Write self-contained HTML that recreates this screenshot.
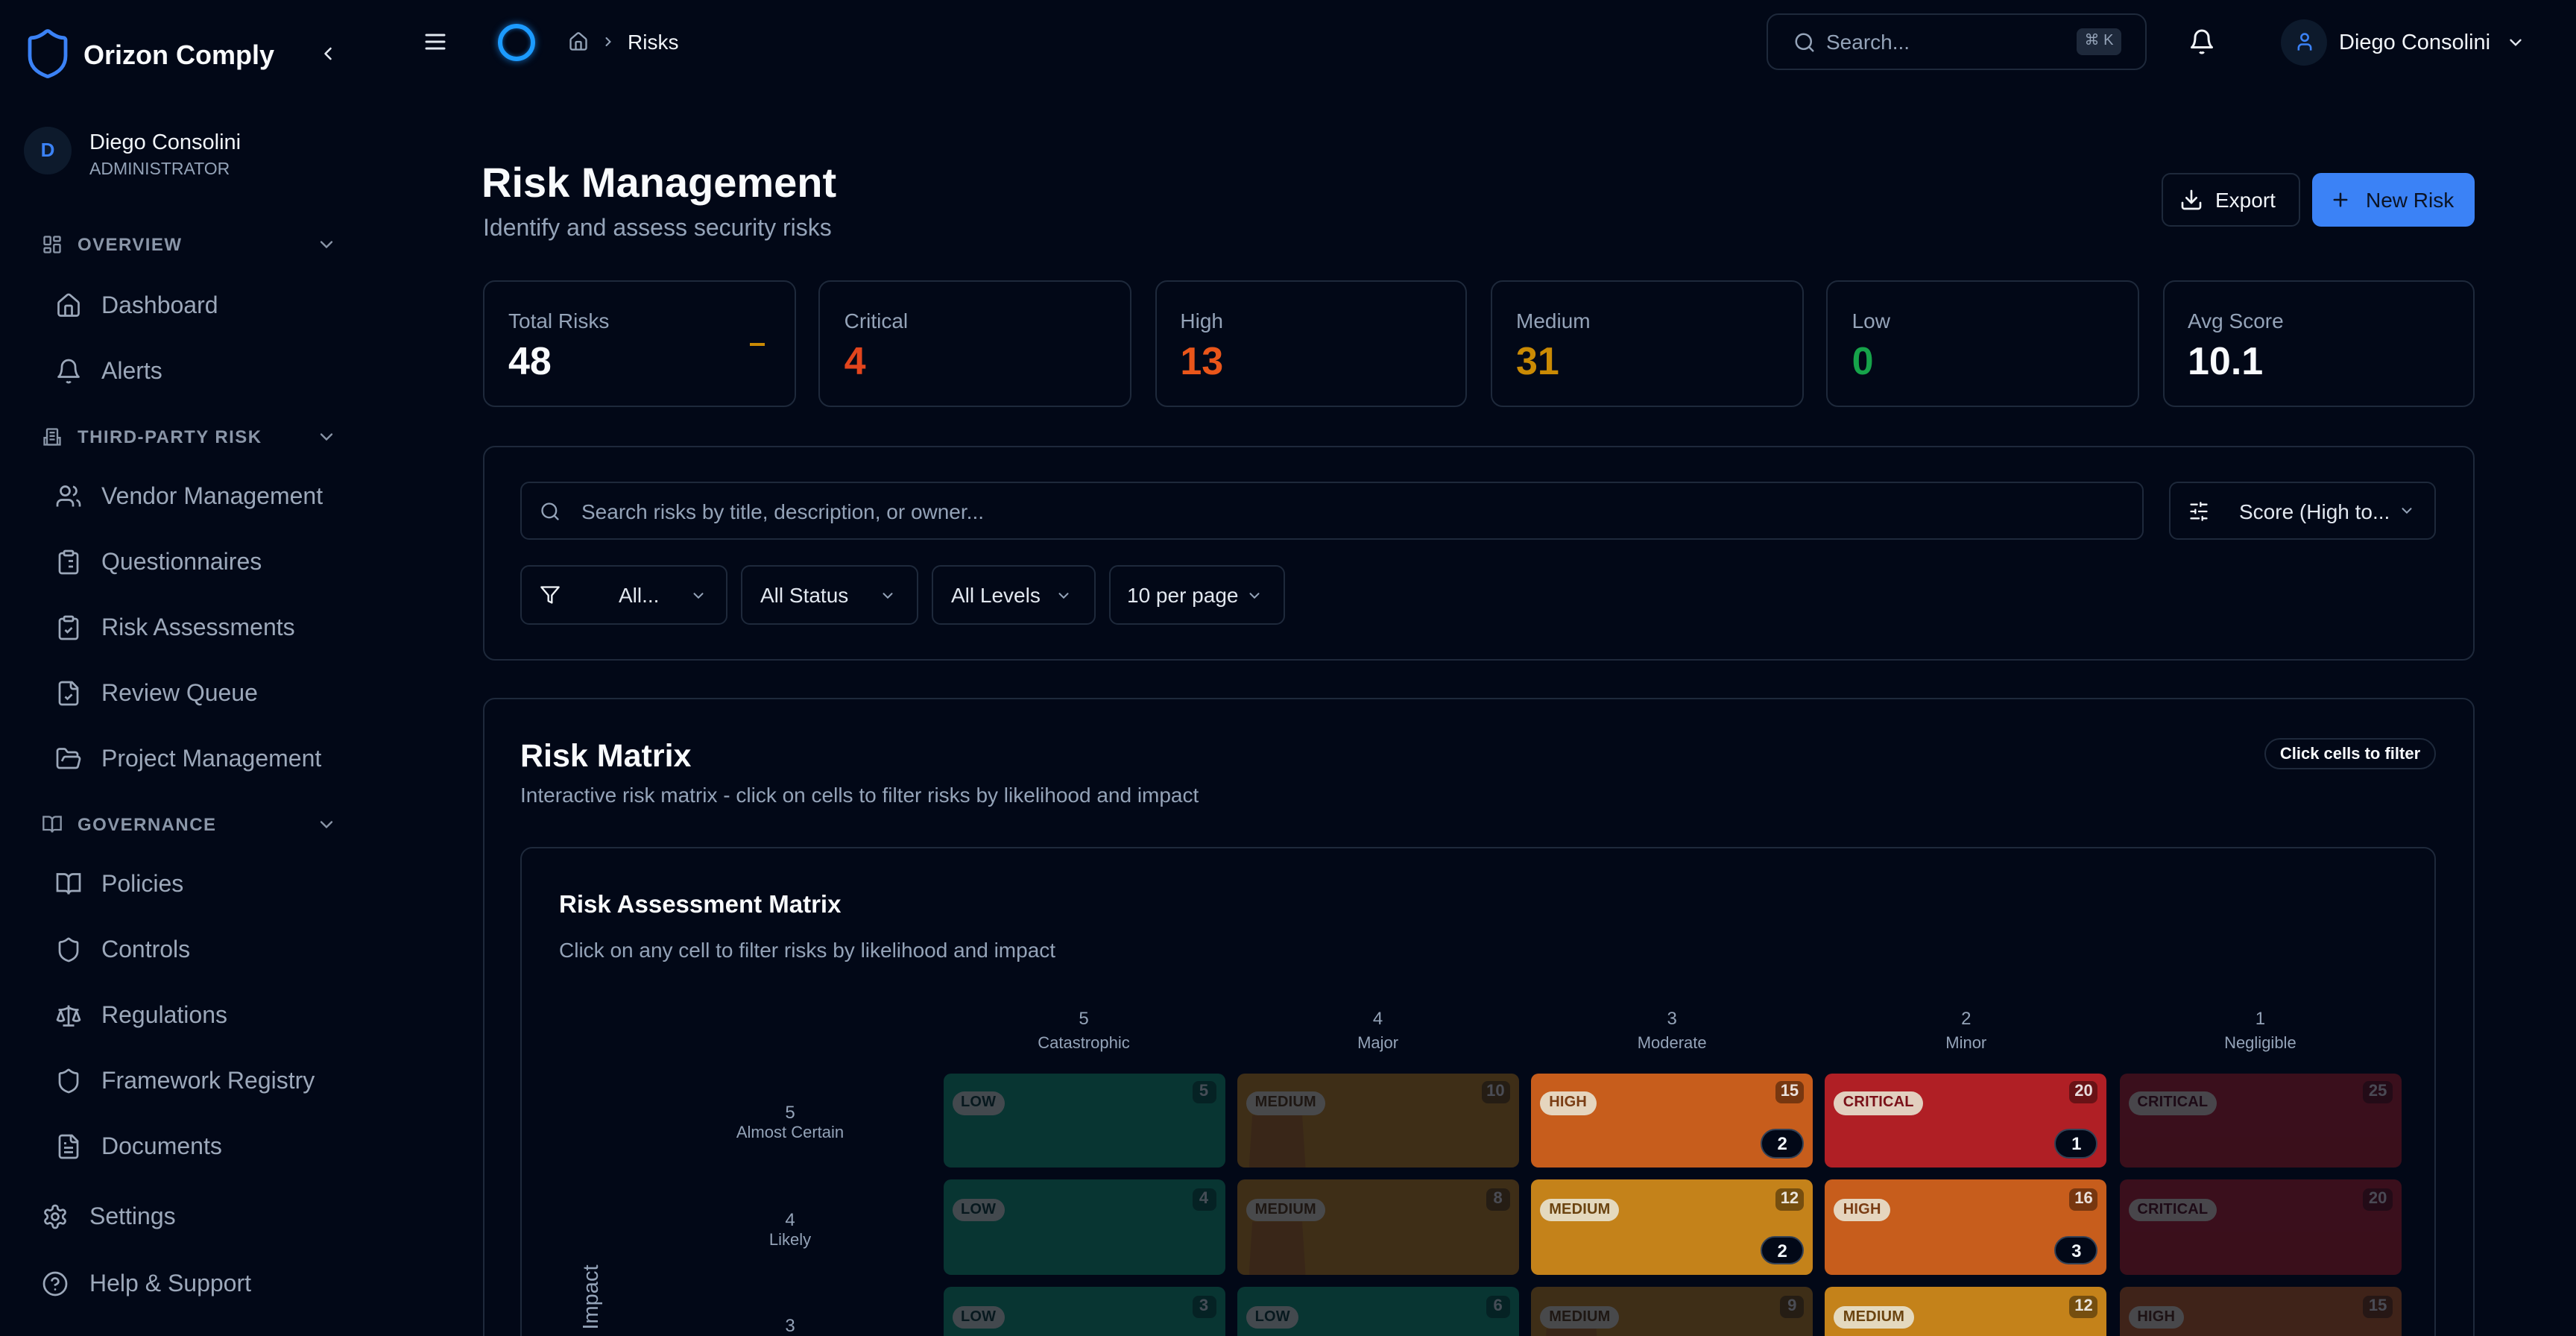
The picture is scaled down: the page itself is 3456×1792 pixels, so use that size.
<!DOCTYPE html>
<html><head><meta charset="utf-8">
<style>
html,body{margin:0;padding:0;width:3456px;height:1792px;overflow:hidden;background:#020817;}
#w{position:absolute;left:0;top:0;width:1728px;height:896px;transform:scale(2);transform-origin:0 0;font-family:"Liberation Sans",sans-serif;color:#f1f5f9;overflow:hidden;background:#020817}
.t{position:absolute;white-space:nowrap;height:20px;line-height:20px}
svg{position:absolute;overflow:visible}
.card{position:absolute;border:1px solid #1e293b;border-radius:8px;box-sizing:border-box}
.nav{font-size:16px;color:#9ca8ba;left:68px}
.sec{font-size:12px;font-weight:bold;color:#8a96a8;letter-spacing:0.06em;left:52px}
.lbl{font-size:14px;color:#94a3b8}
.val{font-size:26px;font-weight:bold;height:30px;line-height:30px}
.btn{position:absolute;border:1px solid #1e293b;border-radius:6px;box-sizing:border-box}
.ft{font-size:14px;color:#e2e8f0}
.ch{font-size:12px;color:#94a3b8;text-align:center;width:100px;margin-left:-50px}
.cl{font-size:11px;color:#94a3b8;text-align:center;width:120px;margin-left:-60px}
.cell{position:absolute;width:189px;height:63.5px;border-radius:5px;overflow:hidden}
.dim{opacity:.31}
.lv{position:absolute;left:6px;top:12.5px;height:15.5px;line-height:15.5px;padding:0 6px;border-radius:999px;background:rgba(232,226,208,0.9);font-size:10px;font-weight:bold;letter-spacing:0.01em}
.sc{position:absolute;right:6px;top:5.5px;min-width:9px;height:15px;line-height:15px;padding:0 3.5px;border-radius:4px;background:rgba(0,0,0,0.4);color:rgba(255,255,255,0.85);font-size:11px;font-weight:bold;text-align:center}
.cn{position:absolute;right:6px;bottom:6.5px;width:29px;height:19.5px;line-height:19.5px;border-radius:10px;background:#020817;border:1px solid #334155;box-sizing:border-box;color:#f1f5f9;font-size:12px;font-weight:bold;text-align:center}
.tz{position:absolute;left:8px;top:28px;width:40px;height:36px;background:rgba(140,50,30,0.3);clip-path:polygon(6% 0,94% 0,100% 100%,0 100%)}
</style></head>
<body><div id="w">

<!-- ============ SIDEBAR ============ -->
<svg style="left:20px;top:20px" width="24" height="32" viewBox="4 1.5 16 21" preserveAspectRatio="none" fill="none" stroke="#3b82f6" stroke-width="1.6" stroke-linejoin="round"><path d="M20 13c0 5-3.5 7.5-7.66 8.95a1 1 0 0 1-.67-.01C7.5 20.5 4 18 4 13V6a1 1 0 0 1 1-1c2 0 4.5-1.2 6.24-2.72a1.17 1.17 0 0 1 1.52 0C14.51 3.81 17 5 19 5a1 1 0 0 1 1 1z"/></svg>
<div class="t" style="left:56px;top:26.5px;font-size:18px;font-weight:bold;color:#f8fafc">Orizon Comply</div>
<svg style="left:213px;top:29px" width="14" height="14" viewBox="0 0 24 24" fill="none" stroke="#e2e8f0" stroke-width="2.2" stroke-linecap="round" stroke-linejoin="round"><path d="m15 18-6-6 6-6"/></svg>

<div style="position:absolute;left:16px;top:85px;width:32px;height:32px;border-radius:50%;background:#0d1a2c"></div>
<div class="t" style="left:16px;top:91px;width:32px;text-align:center;font-size:13px;font-weight:bold;color:#3b82f6">D</div>
<div class="t" style="left:60px;top:85.5px;font-size:14.5px;color:#f1f5f9">Diego Consolini</div>
<div class="t" style="left:60px;top:103.5px;font-size:11.5px;color:#94a3b8">ADMINISTRATOR</div>

<!-- OVERVIEW -->
<svg style="left:28px;top:157px" width="14" height="14" viewBox="0 0 24 24" fill="none" stroke="#8a96a8" stroke-width="2"><rect width="7" height="9" x="3" y="3" rx="1"/><rect width="7" height="5" x="14" y="3" rx="1"/><rect width="7" height="9" x="14" y="12" rx="1"/><rect width="7" height="5" x="3" y="16" rx="1"/></svg>
<div class="t sec" style="top:154px">OVERVIEW</div>
<svg style="left:212px;top:157px" width="14" height="14" viewBox="0 0 24 24" fill="none" stroke="#8a96a8" stroke-width="2" stroke-linecap="round"><path d="m6 9 6 6 6-6"/></svg>

<svg style="left:37px;top:196px" width="18" height="18" viewBox="0 0 24 24" fill="none" stroke="#9ca8ba" stroke-width="1.8" stroke-linejoin="round"><path d="M15 21v-8a1 1 0 0 0-1-1h-4a1 1 0 0 0-1 1v8"/><path d="M3 10a2 2 0 0 1 .709-1.528l7-5.999a2 2 0 0 1 2.582 0l7 5.999A2 2 0 0 1 21 10v9a2 2 0 0 1-2 2H5a2 2 0 0 1-2-2z"/></svg>
<div class="t nav" style="top:196px">Dashboard</div>
<svg style="left:37px;top:240px" width="18" height="18" viewBox="0 0 24 24" fill="none" stroke="#9ca8ba" stroke-width="1.8" stroke-linejoin="round"><path d="M6 8a6 6 0 0 1 12 0c0 7 3 9 3 9H3s3-2 3-9"/><path d="M10.3 21a1.94 1.94 0 0 0 3.4 0"/></svg>
<div class="t nav" style="top:240px">Alerts</div>

<!-- THIRD-PARTY -->
<svg style="left:28px;top:286px" width="14" height="14" viewBox="0 0 24 24" fill="none" stroke="#8a96a8" stroke-width="2"><rect x="6" y="3" width="12" height="18" rx="1"/><path d="M2 21h20M3 21v-8h3M21 21v-8h-3M9 7h6M9 11h6M9 15h6"/></svg>
<div class="t sec" style="top:283px">THIRD-PARTY RISK</div>
<svg style="left:212px;top:286px" width="14" height="14" viewBox="0 0 24 24" fill="none" stroke="#8a96a8" stroke-width="2" stroke-linecap="round"><path d="m6 9 6 6 6-6"/></svg>

<svg style="left:37px;top:324px" width="18" height="18" viewBox="0 0 24 24" fill="none" stroke="#9ca8ba" stroke-width="1.8"><path d="M16 21v-2a4 4 0 0 0-4-4H6a4 4 0 0 0-4 4v2"/><circle cx="9" cy="7" r="4"/><path d="M22 21v-2a4 4 0 0 0-3-3.87"/><path d="M16 3.13a4 4 0 0 1 0 7.75"/></svg>
<div class="t nav" style="top:324px">Vendor Management</div>
<svg style="left:37px;top:368px" width="18" height="18" viewBox="0 0 24 24" fill="none" stroke="#9ca8ba" stroke-width="1.8"><rect width="8" height="4" x="8" y="2" rx="1"/><path d="M16 4h2a2 2 0 0 1 2 2v14a2 2 0 0 1-2 2H6a2 2 0 0 1-2-2V6a2 2 0 0 1 2-2h2"/><path d="M12 11h4M12 16h4M8 11h.01M8 16h.01"/></svg>
<div class="t nav" style="top:368px">Questionnaires</div>
<svg style="left:37px;top:412px" width="18" height="18" viewBox="0 0 24 24" fill="none" stroke="#9ca8ba" stroke-width="1.8"><rect width="8" height="4" x="8" y="2" rx="1"/><path d="M16 4h2a2 2 0 0 1 2 2v14a2 2 0 0 1-2 2H6a2 2 0 0 1-2-2V6a2 2 0 0 1 2-2h2"/><path d="m9 14 2 2 4-4"/></svg>
<div class="t nav" style="top:412px">Risk Assessments</div>
<svg style="left:37px;top:456px" width="18" height="18" viewBox="0 0 24 24" fill="none" stroke="#9ca8ba" stroke-width="1.8"><path d="M15 2H6a2 2 0 0 0-2 2v16a2 2 0 0 0 2 2h12a2 2 0 0 0 2-2V7Z"/><path d="M14 2v4a2 2 0 0 0 2 2h4"/><path d="m9 15 2 2 4-4"/></svg>
<div class="t nav" style="top:456px">Review Queue</div>
<svg style="left:37px;top:500px" width="18" height="18" viewBox="0 0 24 24" fill="none" stroke="#9ca8ba" stroke-width="1.8"><path d="m6 14 1.5-2.9A2 2 0 0 1 9.24 10H20a2 2 0 0 1 1.94 2.5l-1.54 6a2 2 0 0 1-1.950 1.5H4a2 2 0 0 1-2-2V5a2 2 0 0 1 2-2h3.9a2 2 0 0 1 1.69.9l.81 1.2a2 2 0 0 0 1.67.9H18a2 2 0 0 1 2 2v2"/></svg>
<div class="t nav" style="top:500px">Project Management</div>

<!-- GOVERNANCE -->
<svg style="left:28px;top:546px" width="14" height="14" viewBox="0 0 24 24" fill="none" stroke="#8a96a8" stroke-width="2"><path d="M2 3h6a4 4 0 0 1 4 4v14a3 3 0 0 0-3-3H2z"/><path d="M22 3h-6a4 4 0 0 0-4 4v14a3 3 0 0 1 3-3h7z"/></svg>
<div class="t sec" style="top:543px">GOVERNANCE</div>
<svg style="left:212px;top:546px" width="14" height="14" viewBox="0 0 24 24" fill="none" stroke="#8a96a8" stroke-width="2" stroke-linecap="round"><path d="m6 9 6 6 6-6"/></svg>

<svg style="left:37px;top:584px" width="18" height="18" viewBox="0 0 24 24" fill="none" stroke="#9ca8ba" stroke-width="1.8"><path d="M2 3h6a4 4 0 0 1 4 4v14a3 3 0 0 0-3-3H2z"/><path d="M22 3h-6a4 4 0 0 0-4 4v14a3 3 0 0 1 3-3h7z"/></svg>
<div class="t nav" style="top:584px">Policies</div>
<svg style="left:37px;top:628px" width="18" height="18" viewBox="0 0 24 24" fill="none" stroke="#9ca8ba" stroke-width="1.8"><path d="M20 13c0 5-3.5 7.5-7.66 8.95a1 1 0 0 1-.67-.01C7.5 20.5 4 18 4 13V6a1 1 0 0 1 1-1c2 0 4.5-1.2 6.24-2.72a1.17 1.170 0 0 1 1.52 0C14.51 3.81 17 5 19 5a1 1 0 0 1 1 1z"/></svg>
<div class="t nav" style="top:628px">Controls</div>
<svg style="left:37px;top:672px" width="18" height="18" viewBox="0 0 24 24" fill="none" stroke="#9ca8ba" stroke-width="1.8" stroke-linejoin="round"><path d="m16 16 3-8 3 8c-.87.65-1.920 1-3 1s-2.13-.35-3-1Z"/><path d="m2 16 3-8 3 8c-.87.65-1.92 1-3 1s-2.13-.35-3-1Z"/><path d="M7 21h10M12 3v18M3 7h2c2 0 5-1 7-2 2 1 5 2 7 2h2"/></svg>
<div class="t nav" style="top:672px">Regulations</div>
<svg style="left:37px;top:716px" width="18" height="18" viewBox="0 0 24 24" fill="none" stroke="#9ca8ba" stroke-width="1.8"><path d="M20 13c0 5-3.5 7.5-7.66 8.95a1 1 0 0 1-.67-.01C7.5 20.5 4 18 4 13V6a1 1 0 0 1 1-1c2 0 4.5-1.2 6.24-2.72a1.17 1.17 0 0 1 1.52 0C14.51 3.81 17 5 19 5a1 1 0 0 1 1 1z"/></svg>
<div class="t nav" style="top:716px">Framework Registry</div>
<svg style="left:37px;top:760px" width="18" height="18" viewBox="0 0 24 24" fill="none" stroke="#9ca8ba" stroke-width="1.8"><path d="M15 2H6a2 2 0 0 0-2 2v16a2 2 0 0 0 2 2h12a2 2 0 0 0 2-2V7Z"/><path d="M14 2v4a2 2 0 0 0 2 2h4"/><path d="M10 9H8M16 13H8M16 17H8"/></svg>
<div class="t nav" style="top:760px">Documents</div>

<svg style="left:28px;top:807px" width="18" height="18" viewBox="0 0 24 24" fill="none" stroke="#9ca8ba" stroke-width="1.8"><path d="M12.22 2h-.44a2 2 0 0 0-2 2v.18a2 2 0 0 1-1 1.73l-.43.25a2 2 0 0 1-2 0l-.15-.08a2 2 0 0 0-2.73.73l-.22.38a2 2 0 0 0 .73 2.73l.15.1a2 2 0 0 1 1 1.72v.51a2 2 0 0 1-1 1.74l-.15.09a2 2 0 0 0-.73 2.73l.22.38a2 2 0 0 0 2.73.73l.15-.08a2 2 0 0 1 2 0l.43.25a2 2 0 0 1 1 1.73V20a2 2 0 0 0 2 2h.44a2 2 0 0 0 2-2v-.18a2 2 0 0 1 1-1.73l.43-.25a2 2 0 0 1 2 0l.15.08a2 2 0 0 0 2.73-.73l.22-.39a2 2 0 0 0-.73-2.73l-.15-.08a2 2 0 0 1-1-1.74v-.5a2 2 0 0 1 1-1.74l.15-.09a2 2 0 0 0 .73-2.730l-.22-.38a2 2 0 0 0-2.73-.73l-.15.08a2 2 0 0 1-2 0l-.43-.25a2 2 0 0 1-1-1.73V4a2 2 0 0 0-2-2z"/><circle cx="12" cy="12" r="3"/></svg>
<div class="t nav" style="left:60px;top:807px">Settings</div>
<svg style="left:28px;top:852px" width="18" height="18" viewBox="0 0 24 24" fill="none" stroke="#9ca8ba" stroke-width="1.8" stroke-linecap="round"><circle cx="12" cy="12" r="10"/><path d="M9.09 9a3 3 0 0 1 5.83 1c0 2-3 3-3 3"/><path d="M12 17h.01"/></svg>
<div class="t nav" style="left:60px;top:852px">Help &amp; Support</div>

<!-- ============ TOP BAR ============ -->
<svg style="left:283px;top:19px" width="18" height="18" viewBox="0 0 24 24" fill="none" stroke="#e2e8f0" stroke-width="2" stroke-linecap="round"><path d="M4 12h16M4 6h16M4 18h16"/></svg>
<div style="position:absolute;left:333.5px;top:15.5px;width:25px;height:25px;border-radius:50%;border:3.5px solid #1c9bff;box-sizing:border-box;box-shadow:0 0 5px rgba(30,150,255,0.7), inset 0 0 3px rgba(30,150,255,0.6)"></div>
<svg style="left:381px;top:21px" width="14" height="14" viewBox="0 0 24 24" fill="none" stroke="#94a3b8" stroke-width="2" stroke-linejoin="round"><path d="M15 21v-8a1 1 0 0 0-1-1h-4a1 1 0 0 0-1 1v8"/><path d="M3 10a2 2 0 0 1 .709-1.528l7-5.999a2 2 0 0 1 2.582 0l7 5.999A2 2 0 0 1 21 10v9a2 2 0 0 1-2 2H5a2 2 0 0 1-2-2z"/></svg>
<svg style="left:403px;top:23px" width="10" height="10" viewBox="0 0 24 24" fill="none" stroke="#94a3b8" stroke-width="2.4" stroke-linecap="round"><path d="m9 18 6-6-6-6"/></svg>
<div class="t" style="left:421px;top:18px;font-size:14px;color:#f1f5f9">Risks</div>

<div class="btn" style="left:1185px;top:9px;width:255px;height:38px;border-radius:8px"></div>
<svg style="left:1203px;top:21px" width="15" height="15" viewBox="0 0 24 24" fill="none" stroke="#94a3b8" stroke-width="2" stroke-linecap="round"><circle cx="11" cy="11" r="8"/><path d="m21 21-4.3-4.3"/></svg>
<div class="t" style="left:1225px;top:18px;font-size:14px;color:#94a3b8">Search...</div>
<div style="position:absolute;left:1393px;top:19px;width:30px;height:18px;border-radius:4px;background:#1e293b"></div>
<div class="t" style="left:1393px;top:18px;width:30px;text-align:center;font-size:10px;color:#94a3b8">⌘ K</div>

<svg style="left:1468px;top:19px" width="18" height="18" viewBox="0 0 24 24" fill="none" stroke="#f1f5f9" stroke-width="2" stroke-linejoin="round"><path d="M6 8a6 6 0 0 1 12 0c0 7 3 9 3 9H3s3-2 3-9"/><path d="M10.3 21a1.94 1.94 0 0 0 3.4 0"/></svg>

<div style="position:absolute;left:1530px;top:12.5px;width:31px;height:31px;border-radius:50%;background:#0d1a2c"></div>
<svg style="left:1538.5px;top:21px" width="14" height="14" viewBox="0 0 24 24" fill="none" stroke="#3b82f6" stroke-width="2.2"><circle cx="12" cy="7" r="4"/><path d="M5 22v-3a4 4 0 0 1 4-4h6a4 4 0 0 1 4 4v3"/></svg>
<div class="t" style="left:1569px;top:18.5px;font-size:14.5px;color:#f1f5f9">Diego Consolini</div>
<svg style="left:1681px;top:21.5px" width="13" height="13" viewBox="0 0 24 24" fill="none" stroke="#e2e8f0" stroke-width="2.2" stroke-linecap="round"><path d="m6 9 6 6 6-6"/></svg>

<!-- ============ PAGE HEADER ============ -->
<div class="t" style="left:323px;top:107px;height:32px;line-height:32px;font-size:28px;font-weight:bold;color:#f8fafc">Risk Management</div>
<div class="t" style="left:324px;top:144px;font-size:16px;color:#94a3b8">Identify and assess security risks</div>

<div class="btn" style="left:1450px;top:116px;width:93px;height:36px"></div>
<svg style="left:1462px;top:126px" width="16" height="16" viewBox="0 0 24 24" fill="none" stroke="#f1f5f9" stroke-width="2" stroke-linecap="round" stroke-linejoin="round"><path d="M21 15v4a2 2 0 0 1-2 2H5a2 2 0 0 1-2-2v-4"/><polyline points="7 10 12 15 17 10"/><line x1="12" x2="12" y1="15" y2="3"/></svg>
<div class="t" style="left:1486px;top:124px;font-size:14px;color:#f1f5f9">Export</div>
<div style="position:absolute;left:1551px;top:116px;width:109px;height:36px;border-radius:6px;background:#3b82f6"></div>
<svg style="left:1563px;top:127px" width="14" height="14" viewBox="0 0 24 24" fill="none" stroke="#0b1324" stroke-width="2.2" stroke-linecap="round"><path d="M5 12h14M12 5v14"/></svg>
<div class="t" style="left:1587px;top:124px;font-size:14px;color:#0b1324">New Risk</div>

<!-- ============ STAT CARDS ============ -->
<div class="card" style="left:324px;top:188px;width:209.5px;height:85px"></div>
<div class="t lbl" style="left:341px;top:205px">Total Risks</div>
<div class="t val" style="left:341px;top:226.5px;color:#f8fafc">48</div>
<div style="position:absolute;left:502.5px;top:229.5px;width:10px;height:2px;background:#ca8a04"></div>

<div class="card" style="left:549.3px;top:188px;width:209.5px;height:85px"></div>
<div class="t lbl" style="left:566.3px;top:205px">Critical</div>
<div class="t val" style="left:566.3px;top:226.5px;color:#e2451d">4</div>

<div class="card" style="left:774.7px;top:188px;width:209.5px;height:85px"></div>
<div class="t lbl" style="left:791.7px;top:205px">High</div>
<div class="t val" style="left:791.7px;top:226.5px;color:#ea561a">13</div>

<div class="card" style="left:1000px;top:188px;width:209.5px;height:85px"></div>
<div class="t lbl" style="left:1017px;top:205px">Medium</div>
<div class="t val" style="left:1017px;top:226.5px;color:#ca8a04">31</div>

<div class="card" style="left:1225.3px;top:188px;width:209.5px;height:85px"></div>
<div class="t lbl" style="left:1242.3px;top:205px">Low</div>
<div class="t val" style="left:1242.3px;top:226.5px;color:#16a34a">0</div>

<div class="card" style="left:1450.5px;top:188px;width:209.5px;height:85px"></div>
<div class="t lbl" style="left:1467.5px;top:205px">Avg Score</div>
<div class="t val" style="left:1467.5px;top:226.5px;color:#f8fafc">10.1</div>

<!-- ============ FILTER CARD ============ -->
<div class="card" style="left:324px;top:299px;width:1336px;height:144px"></div>
<div class="btn" style="left:349px;top:323px;width:1089px;height:39px"></div>
<svg style="left:362px;top:335.5px" width="14" height="14" viewBox="0 0 24 24" fill="none" stroke="#94a3b8" stroke-width="2" stroke-linecap="round"><circle cx="11" cy="11" r="8"/><path d="m21 21-4.3-4.3"/></svg>
<div class="t" style="left:390px;top:333px;font-size:14px;color:#94a3b8">Search risks by title, description, or owner...</div>
<div class="btn" style="left:1455px;top:323px;width:179px;height:39px"></div>
<svg style="left:1467.5px;top:335.5px" width="14" height="14" viewBox="0 0 24 24" fill="none" stroke="#f1f5f9" stroke-width="2" stroke-linecap="round"><path d="M21 4h-7M10 4H3M21 12h-9M8 12H3M21 20h-5M12 20H3M14 2v4M8 10v4M16 18v4"/></svg>
<div class="t ft" style="left:1502px;top:333px">Score (High to...</div>
<svg style="left:1609px;top:337px" width="11" height="11" viewBox="0 0 24 24" fill="none" stroke="#94a3b8" stroke-width="2.2" stroke-linecap="round"><path d="m6 9 6 6 6-6"/></svg>

<div class="btn" style="left:349px;top:379px;width:139px;height:40px"></div>
<svg style="left:362px;top:392px" width="14" height="14" viewBox="0 0 24 24" fill="none" stroke="#f1f5f9" stroke-width="2" stroke-linejoin="round"><polygon points="22 3 2 3 10 12.46 10 19 14 21 14 12.46 22 3"/></svg>
<div class="t ft" style="left:415px;top:389px">All...</div>
<svg style="left:462.5px;top:393.5px" width="11" height="11" viewBox="0 0 24 24" fill="none" stroke="#94a3b8" stroke-width="2.2" stroke-linecap="round"><path d="m6 9 6 6 6-6"/></svg>

<div class="btn" style="left:497px;top:379px;width:119px;height:40px"></div>
<div class="t ft" style="left:510px;top:389px">All Status</div>
<svg style="left:589.5px;top:393.5px" width="11" height="11" viewBox="0 0 24 24" fill="none" stroke="#94a3b8" stroke-width="2.2" stroke-linecap="round"><path d="m6 9 6 6 6-6"/></svg>

<div class="btn" style="left:625px;top:379px;width:110px;height:40px"></div>
<div class="t ft" style="left:638px;top:389px">All Levels</div>
<svg style="left:707.5px;top:393.5px" width="11" height="11" viewBox="0 0 24 24" fill="none" stroke="#94a3b8" stroke-width="2.2" stroke-linecap="round"><path d="m6 9 6 6 6-6"/></svg>

<div class="btn" style="left:744px;top:379px;width:118px;height:40px"></div>
<div class="t ft" style="left:756px;top:389px">10 per page</div>
<svg style="left:835.5px;top:393.5px" width="11" height="11" viewBox="0 0 24 24" fill="none" stroke="#94a3b8" stroke-width="2.2" stroke-linecap="round"><path d="m6 9 6 6 6-6"/></svg>

<!-- ============ RISK MATRIX CARD ============ -->
<div class="card" style="left:324px;top:468px;width:1336px;height:600px"></div>
<div class="t" style="left:349px;top:494.5px;height:24px;line-height:24px;font-size:21.5px;font-weight:bold;color:#f8fafc">Risk Matrix</div>
<div style="position:absolute;left:1519px;top:495px;width:115px;height:21px;border:1px solid #1e293b;border-radius:999px;box-sizing:border-box"></div>
<div class="t" style="left:1519px;top:495.5px;width:115px;text-align:center;font-size:11px;font-weight:bold;color:#f8fafc">Click cells to filter</div>
<div class="t" style="left:349px;top:522.5px;font-size:14px;color:#94a3b8">Interactive risk matrix - click on cells to filter risks by likelihood and impact</div>

<div class="card" style="left:349px;top:568px;width:1285px;height:500px"></div>
<div class="t" style="left:375px;top:596.5px;font-size:16.5px;font-weight:bold;color:#f8fafc">Risk Assessment Matrix</div>
<div class="t" style="left:375px;top:626.5px;font-size:14px;color:#94a3b8">Click on any cell to filter risks by likelihood and impact</div>

<!-- column headers -->
<div class="t ch" style="left:727px;top:672.5px">5</div><div class="t cl" style="left:727px;top:689.5px">Catastrophic</div>
<div class="t ch" style="left:924.3px;top:672.5px">4</div><div class="t cl" style="left:924.3px;top:689.5px">Major</div>
<div class="t ch" style="left:1121.6px;top:672.5px">3</div><div class="t cl" style="left:1121.6px;top:689.5px">Moderate</div>
<div class="t ch" style="left:1318.9px;top:672.5px">2</div><div class="t cl" style="left:1318.9px;top:689.5px">Minor</div>
<div class="t ch" style="left:1516.2px;top:672.5px">1</div><div class="t cl" style="left:1516.2px;top:689.5px">Negligible</div>

<!-- row labels -->
<div class="t ch" style="left:530px;top:735.5px">5</div><div class="t cl" style="left:530px;top:749.5px">Almost Certain</div>
<div class="t ch" style="left:530px;top:807.5px">4</div><div class="t cl" style="left:530px;top:821.5px">Likely</div>
<div class="t ch" style="left:530px;top:879px">3</div><div class="t cl" style="left:530px;top:893px">Possible</div>

<div class="t" style="left:370px;top:860px;width:54px;text-align:center;font-size:14.5px;color:#94a3b8;transform:rotate(-90deg)">Impact</div>

<!-- row 5 -->
<div class="cell dim" style="left:632.5px;top:719.6px;background:#179a70"><span class="lv" style="color:#123e30">LOW</span><span class="sc">5</span></div>
<div class="cell dim" style="left:829.8px;top:719.6px;background:#c4821a"><div class="tz" style="width:38px"></div><span class="lv" style="color:#5e3a0c">MEDIUM</span><span class="sc">10</span></div>
<div class="cell" style="left:1027.1px;top:719.6px;background:#c75d1c"><span class="lv" style="color:#7a3d14">HIGH</span><span class="sc">15</span><span class="cn">2</span></div>
<div class="cell" style="left:1224.4px;top:719.6px;background:#b01f25"><span class="lv" style="color:#7a1018">CRITICAL</span><span class="sc">20</span><span class="cn">1</span></div>
<div class="cell dim" style="left:1421.7px;top:719.6px;background:#b81f28"><span class="lv" style="color:#5a1016">CRITICAL</span><span class="sc">25</span></div>

<!-- row 4 -->
<div class="cell dim" style="left:632.5px;top:791.3px;background:#179a70"><span class="lv" style="color:#123e30">LOW</span><span class="sc">4</span></div>
<div class="cell dim" style="left:829.8px;top:791.3px;background:#c4821a"><div class="tz" style="width:38px"></div><span class="lv" style="color:#5e3a0c">MEDIUM</span><span class="sc">8</span></div>
<div class="cell" style="left:1027.1px;top:791.3px;background:#c4821a"><span class="lv" style="color:#6b4410">MEDIUM</span><span class="sc">12</span><span class="cn">2</span></div>
<div class="cell" style="left:1224.4px;top:791.3px;background:#c75d1c"><span class="lv" style="color:#7a3d14">HIGH</span><span class="sc">16</span><span class="cn">3</span></div>
<div class="cell dim" style="left:1421.7px;top:791.3px;background:#b81f28"><span class="lv" style="color:#5a1016">CRITICAL</span><span class="sc">20</span></div>

<!-- row 3 -->
<div class="cell dim" style="left:632.5px;top:863px;background:#179a70"><span class="lv" style="color:#123e30">LOW</span><span class="sc">3</span></div>
<div class="cell dim" style="left:829.8px;top:863px;background:#179a70"><span class="lv" style="color:#123e30">LOW</span><span class="sc">6</span></div>
<div class="cell dim" style="left:1027.1px;top:863px;background:#c4821a"><div class="tz" style="width:38px"></div><span class="lv" style="color:#5e3a0c">MEDIUM</span><span class="sc">9</span></div>
<div class="cell" style="left:1224.4px;top:863px;background:#c4821a"><span class="lv" style="color:#6b4410">MEDIUM</span><span class="sc">12</span></div>
<div class="cell dim" style="left:1421.7px;top:863px;background:#c8601f"><span class="lv" style="color:#5a2a10">HIGH</span><span class="sc">15</span></div>

</div></body></html>
